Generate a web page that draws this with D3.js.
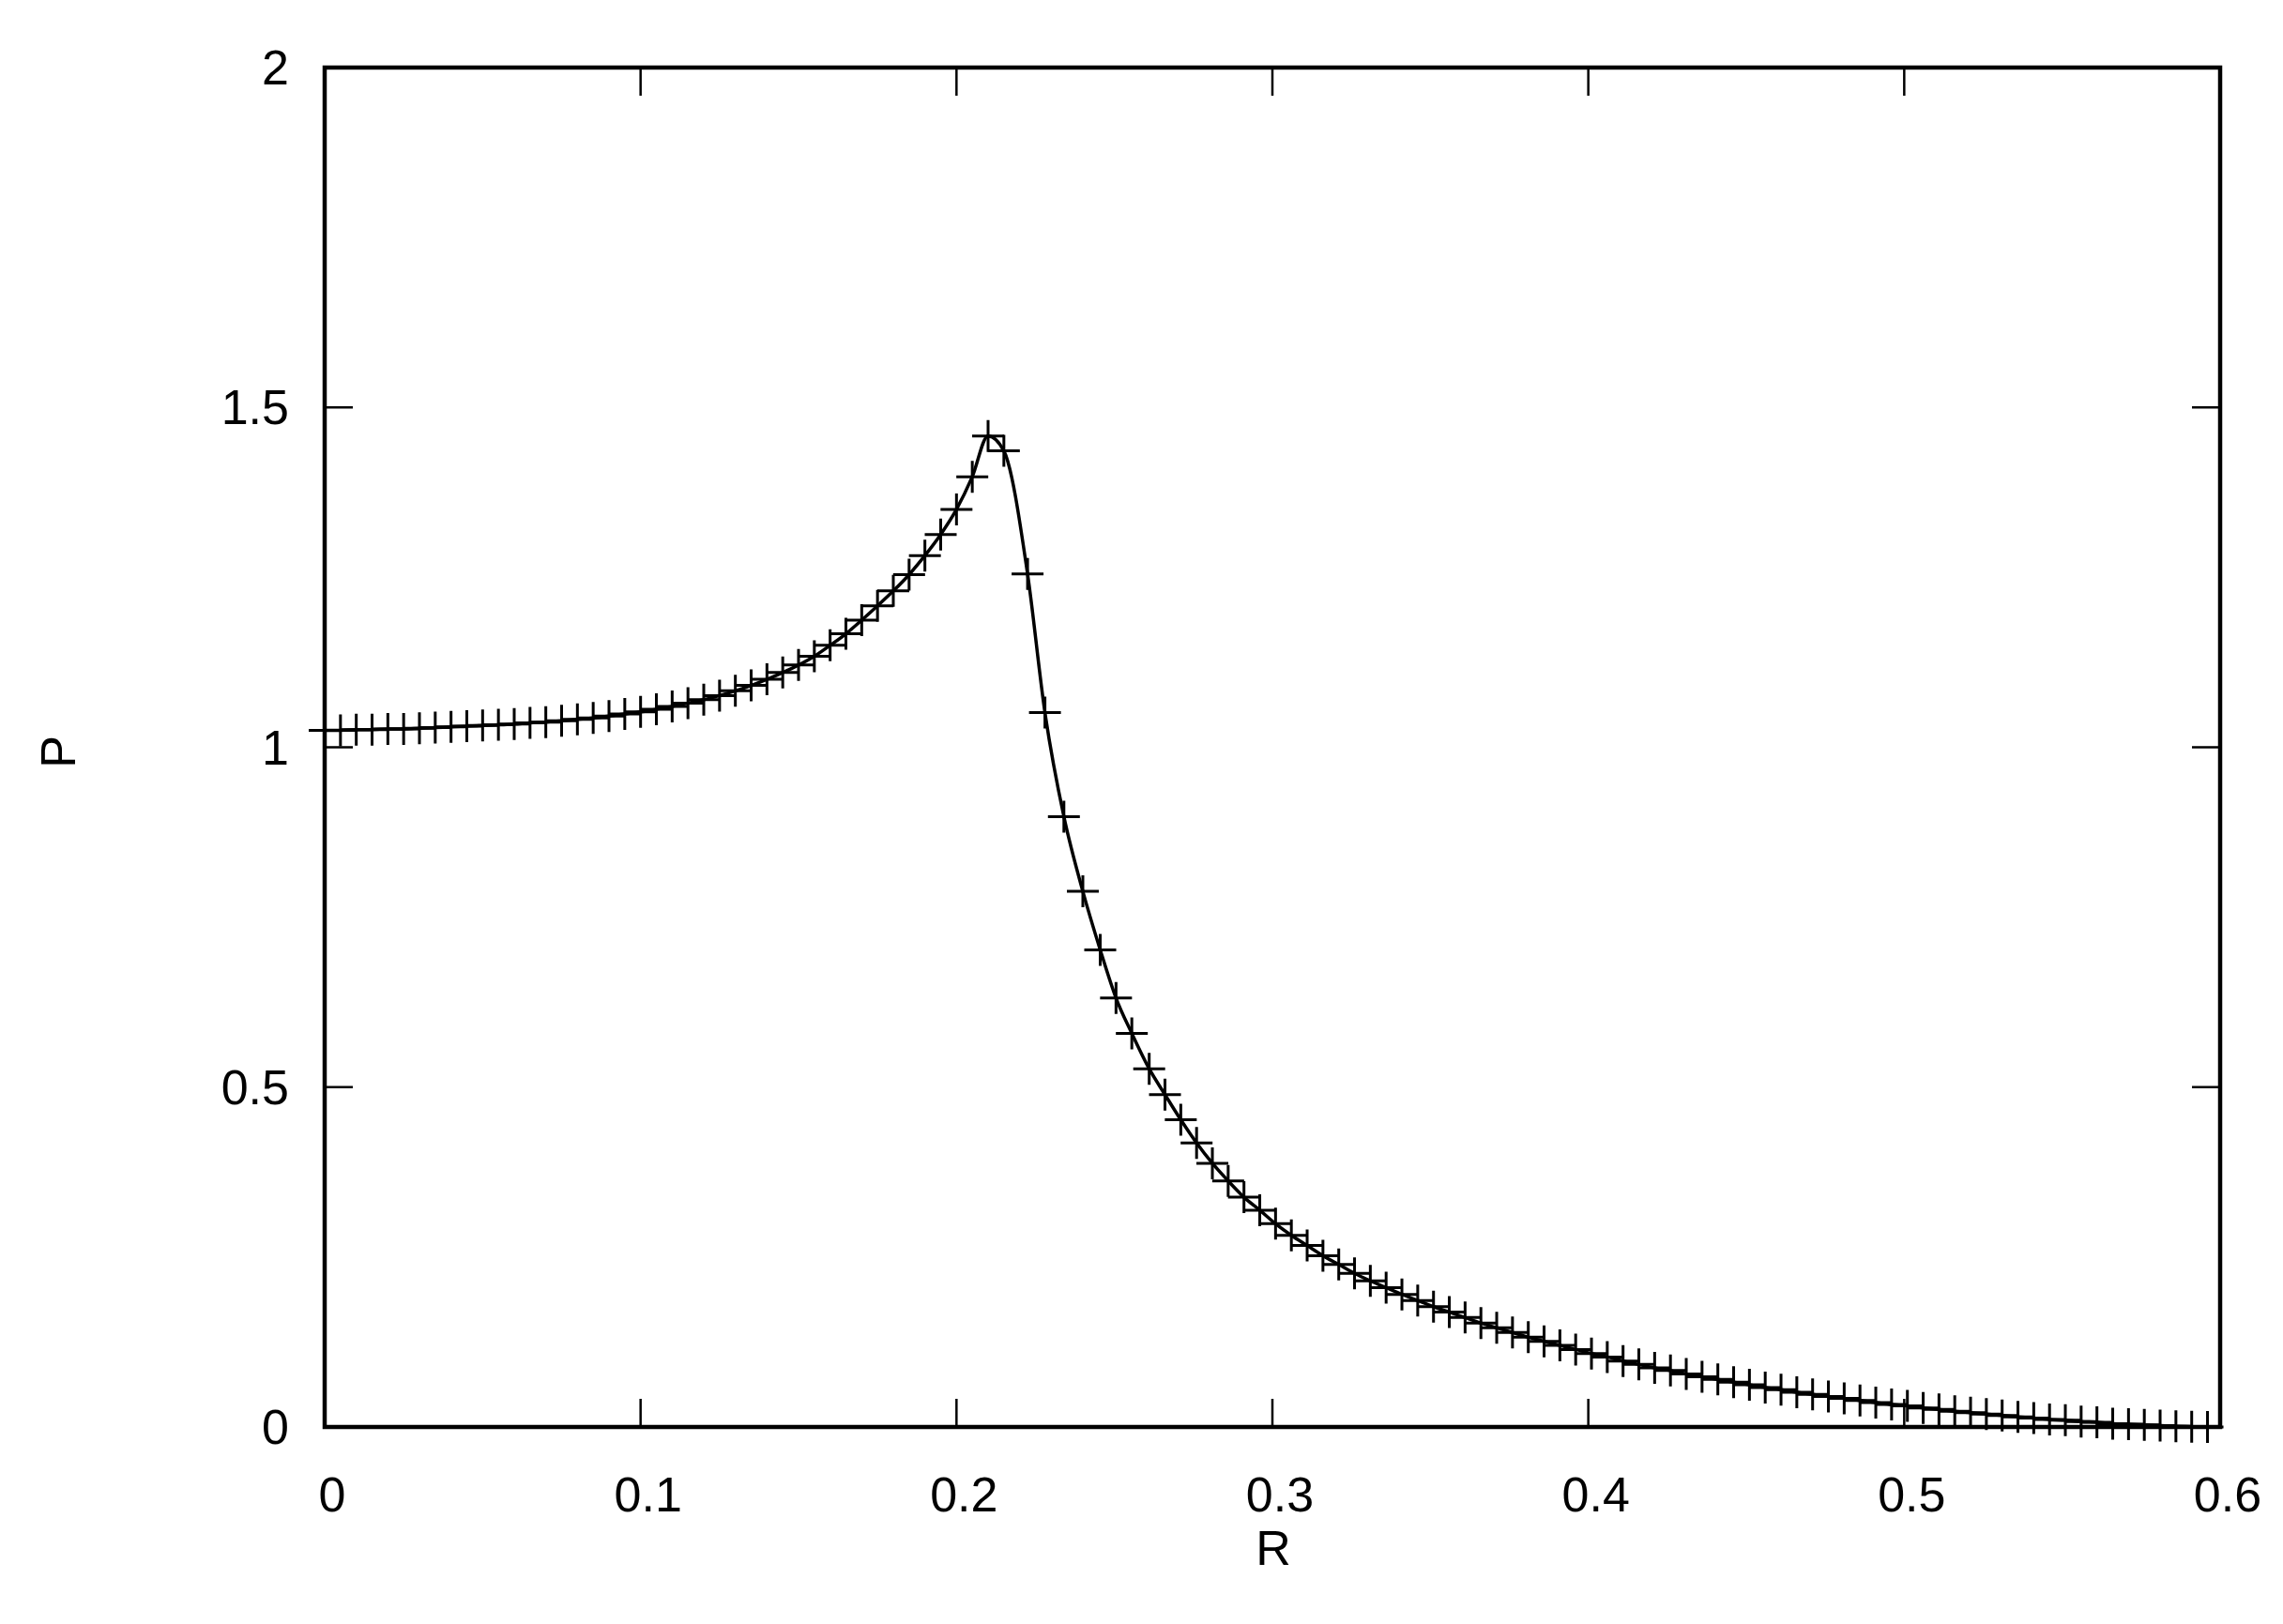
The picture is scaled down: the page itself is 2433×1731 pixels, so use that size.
<!DOCTYPE html>
<html><head><meta charset="utf-8">
<script src="https://cdn.jsdelivr.net/npm/d3@7"></script>
<style>body{margin:0;background:#fff}</style>
</head><body><svg id="chart" width="2433" height="1731"></svg>
<script>
// R values of the sampled points
var rValues = [0,0.005,0.01,0.015,0.02,0.025,0.03,0.035,0.04,0.045,0.05,0.055,0.06,0.065,0.07,0.075,0.08,0.085,0.09,0.095,
  0.1,0.105,0.11,0.115,0.12,0.125,0.13,0.135,0.14,0.145,0.15,0.155,0.16,0.165,0.17,0.175,0.18,0.185,0.19,0.195,0.2,0.205,0.21,
  0.215,0.2225,0.228,0.234,0.24,0.2455,0.2505,0.2555,0.261,0.266,0.271,0.276,0.281,0.286,0.291,0.296,0.301,0.306,0.311,0.316,0.321,0.326,
  0.331,0.336,0.341,0.346,0.351,0.356,0.361,0.366,0.371,0.376,0.381,0.386,0.391,0.396,0.401,0.406,0.411,0.416,0.421,0.426,0.431,0.436,
  0.441,0.446,0.451,0.456,0.461,0.466,0.471,0.476,0.481,0.486,0.491,0.496,0.501,0.506,0.511,0.516,0.521,0.526,0.531,0.536,0.541,0.546,
  0.551,0.556,0.561,0.566,0.571,0.576,0.581,0.586,0.591,0.596];
var pValues = [1.025,1.025,1.026,1.026,1.027,1.027,1.028,1.029,1.030,1.031,1.032,1.033,1.034,1.036,1.037,1.039,1.041,1.043,1.046,1.049,
  1.052,1.056,1.060,1.065,1.070,1.076,1.083,1.091,1.100,1.110,1.121,1.134,1.150,1.167,1.187,1.208,1.230,1.254,1.282,1.313,1.350,1.398,1.458,
  1.436,1.255,1.051,0.898,0.788,0.702,0.631,0.579,0.527,0.489,0.452,0.418,0.388,0.362,0.338,0.319,0.299,0.282,0.267,0.252,0.239,0.226,
  0.215,0.205,0.195,0.186,0.177,0.169,0.161,0.153,0.146,0.139,0.132,0.126,0.120,0.114,0.108,0.103,0.097,0.092,0.087,0.083,0.078,0.074,
  0.070,0.066,0.062,0.058,0.055,0.051,0.048,0.045,0.042,0.039,0.036,0.033,0.031,0.028,0.026,0.023,0.021,0.019,0.017,0.015,0.013,0.011,
  0.010,0.008,0.007,0.005,0.004,0.003,0.002,0.001,0.0005,0.0];
var xTicks = [0,0.1,0.2,0.3,0.4,0.5,0.6];
var yTicks = [0,0.5,1,1.5,2];

(function(){
var svg = d3.select("#chart"),
    mLeft = 346, mRight = 2366, mTop = 72, mBottom = 1521,
    font = "'Liberation Sans', Arial, sans-serif";

var x = d3.scaleLinear().domain([0,0.6]).range([mLeft,mRight]),
    y = d3.scaleLinear().domain([0,2]).range([mBottom,mTop]);

var data = rValues.map(function(r,i){ return [r,pValues[i]]; });

// ticks (inward, mirrored)
var tl = 30;
var g = svg.append("g").attr("stroke","#000").attr("stroke-width",2.5);
xTicks.forEach(function(t){
  g.append("line").attr("x1",x(t)).attr("x2",x(t)).attr("y1",mBottom).attr("y2",mBottom-tl);
  g.append("line").attr("x1",x(t)).attr("x2",x(t)).attr("y1",mTop).attr("y2",mTop+tl);
});
yTicks.forEach(function(t){
  g.append("line").attr("x1",mLeft).attr("x2",mLeft+tl).attr("y1",y(t)).attr("y2",y(t));
  g.append("line").attr("x1",mRight).attr("x2",mRight-tl).attr("y1",y(t)).attr("y2",y(t));
});

// curve
svg.append("path").datum(data)
   .attr("fill","none").attr("stroke","#000").attr("stroke-width",3.5)
   .attr("d", d3.line().x(function(d){return x(d[0]);}).y(function(d){return y(d[1]);}).curve(d3.curveMonotoneX));

// plus markers
var ms = 17;
svg.append("g").selectAll("path").data(data).enter().append("path")
   .attr("fill","none").attr("stroke","#000").attr("stroke-width",3)
   .attr("d", function(d){
     var px = x(d[0]), py = y(d[1]);
     return "M"+(px-ms)+","+py+"H"+(px+ms)+"M"+px+","+(py-ms)+"V"+(py+ms);
   });

// frame
svg.append("rect").attr("x",mLeft).attr("y",mTop).attr("width",mRight-mLeft).attr("height",mBottom-mTop)
   .attr("fill","none").attr("stroke","#000").attr("stroke-width",4.5);

// tick labels
svg.append("g").selectAll("text").data(xTicks).enter().append("text")
   .attr("x",function(d){return x(d)+8;}).attr("y",mBottom+90)
   .attr("text-anchor","middle").attr("font-family",font).attr("font-size",52)
   .text(function(d){return d3.format("")(d);});
svg.append("g").selectAll("text").data(yTicks).enter().append("text")
   .attr("x",mLeft-38).attr("y",function(d){return y(d)+18;})
   .attr("text-anchor","end").attr("font-family",font).attr("font-size",52)
   .text(function(d){return d3.format("")(d);});

// axis labels
svg.append("text").attr("x",1357).attr("y",1668).attr("text-anchor","middle")
   .attr("font-family",font).attr("font-size",52).text("R");
svg.append("text").attr("transform","translate(80,"+(y(1)+5)+") rotate(-90)").attr("text-anchor","middle")
   .attr("font-family",font).attr("font-size",52).text("P");
})();
</script></body></html>
